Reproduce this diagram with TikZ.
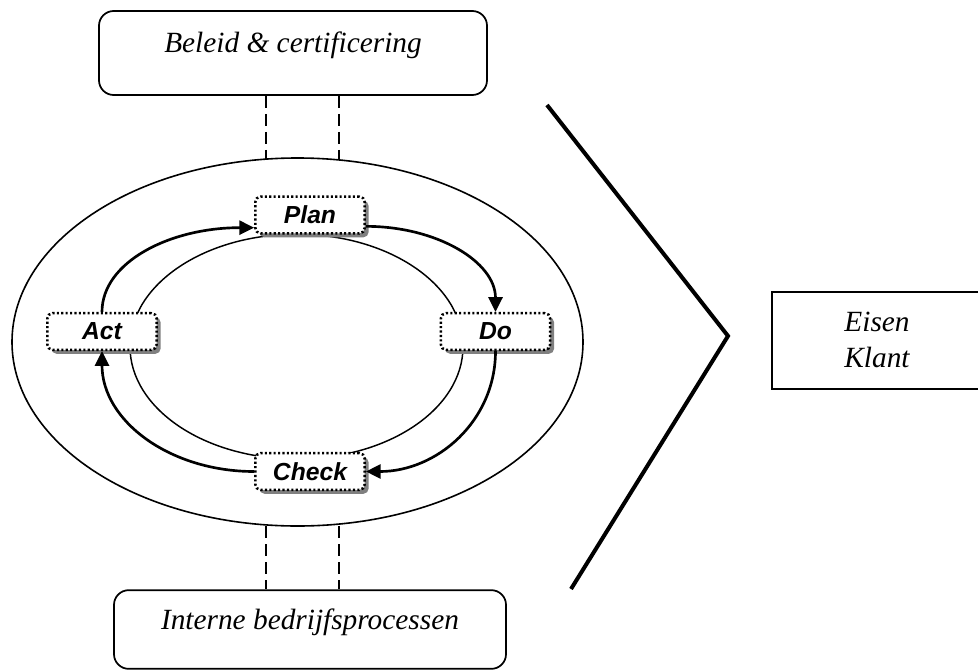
\documentclass[tikz,border=0pt]{standalone}
\usepackage{fontspec}
\setmainfont{Liberation Serif}
\newfontfamily\arialf{Liberation Sans}
\usetikzlibrary{shadows,arrows.meta}
\begin{document}
\begin{tikzpicture}[x=0.75pt,y=-0.75pt,
  pdca/.style={draw, fill=white, line width=1.9pt, dash pattern=on 1.6pt off 1.7pt,
    rounded corners=4pt, minimum width=82pt, minimum height=27.5pt, inner sep=0pt,
    font=\arialf\bfseries\itshape\fontsize{18.5}{21}\selectfont,
    drop shadow={shadow xshift=3pt, shadow yshift=-3pt, fill=black!50, opacity=1}},
  cyc/.style={line width=2pt, -{Triangle[length=11pt,width=10.5pt]}},
  serift/.style={font=\itshape\fontsize{22}{26}\selectfont, inner sep=0pt},
  outerbox/.style={draw, line width=1.3pt, rounded corners=11pt, inner sep=0pt},
  link/.style={line width=1pt, dash pattern=on 9pt off 4.5pt}]
\useasboundingbox (0,0) rectangle (978,671);
% ellipses
\draw[line width=1.2pt] (297.5,342) ellipse [x radius=285.5, y radius=184];
\draw[line width=1.1pt] (296.5,346.6) ellipse [x radius=166.5, y radius=112.4];
% boxes
\node[outerbox, minimum width=291pt, minimum height=63pt] (topbox) at (293,53) {};
\node[serift] (toptext) at (293,45) {Beleid \& certificering};
\node[outerbox, minimum width=294pt, minimum height=59pt] (botbox) at (310,629.5) {};
\node[serift] (bottext) at (310,622) {Interne bedrijfsprocessen};
% pdca nodes
\node[pdca] (plan) at (310,215) {Plan};
\node[pdca] (act) at (102,331.5) {Act};
\node[pdca] (do) at (495.5,331.5) {Do};
\node[pdca] (check) at (310,471.5) {Check};
% arrows
\draw[cyc] (act.north) .. controls +(0,-50) and +(-84,0) .. ([yshift=-9.5pt]plan.west);
\draw[cyc] ([yshift=-8.5pt]plan.east) .. controls +(71,0) and +(0,-50) .. (do.north);
\draw[cyc] (do.south) .. controls +(0,70) and +(71,0) .. (check.east);
\draw[cyc] (check.west) .. controls +(-84,0) and +(0,70) .. (act.south);
% dashed links
\coordinate (e1) at (266,159);
\coordinate (e2) at (339,159);
\coordinate (e3) at (266,526);
\coordinate (e4) at (339,526);
\draw[link] (topbox.south -| e1) -- (e1);
\draw[link] (topbox.south -| e2) -- (e2);
\draw[link] (e3) -- (botbox.north -| e3);
\draw[link] (e4) -- (botbox.north -| e4);
% chevron
\coordinate (c1) at (547,105);
\coordinate (c2) at (728,336);
\coordinate (c3) at (571,589);
\draw[line width=3pt, line join=miter] (c1) -- (c2) -- (c3);
% Eisen Klant
\node[serift, align=center, font=\itshape\fontsize{22}{27}\selectfont] (eisen) at (877,340) {Eisen\\Klant};
\draw[line width=1.3pt] (985,292) -- (772,292) -- (772,389) -- (985,389);
\end{tikzpicture}
\end{document}
